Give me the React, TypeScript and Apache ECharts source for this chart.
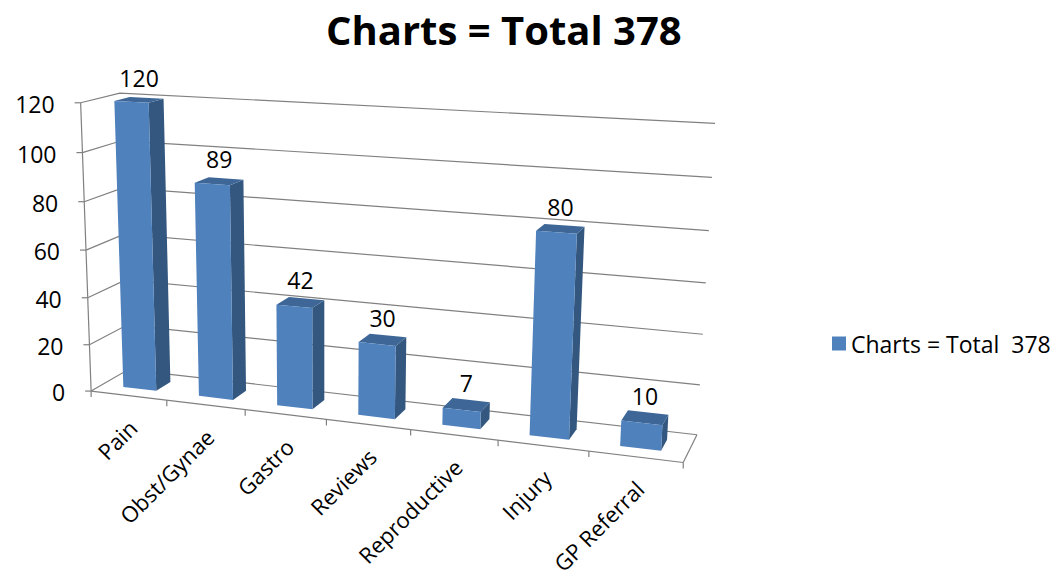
import React, { useEffect, useRef } from "react";
import * as echarts from "echarts";

const titleText = "Charts = Total 378";
const seriesName = "Charts = Total  378";
const categories = ["Pain", "Obst/Gynae", "Gastro", "Reviews", "Reproductive", "Injury", "GP Referral"];
const values = [120, 89, 42, 30, 7, 80, 10];
const yTicks = [0, 20, 40, 60, 80, 100, 120];
const Y_MAX = 120;
const Y_STEP = 20;

const FONT = "'Open Sans', 'DejaVu Sans', sans-serif";
const FRONT = "#4F81BD";
const SIDE = "#34577F";
const TOP = "#3E6797";
const GRID_LINE = "#808080";

// Camera calibration: box coordinates (u across categories, h height fraction, w depth 0=front 1=back) -> page pixels
const CAL: number[][] = [
  [0, 0, 1, 123, 373],
  [0, 1, 1, 123, 93],
  [1, 0, 1, 697, 432],
  [1, 1, 1, 715, 123],
  [0, 0, 0, 93, 390],
  [0, 1, 0, 78, 104],
  [1, 0, 0, 683, 465],
  [0, 5 / 6, 1, 123, 142],
  [1, 5 / 6, 1, 712, 178],
  [1, 1 / 6, 1, 700, 383],
  [1, 2 / 6, 1, 703, 334],
  [1, 3 / 6, 1, 706, 282],
  [1, 4 / 6, 1, 709, 231],
  [1 / 7, 0, 0, 170, 400],
  [2 / 7, 0, 0, 247, 410],
  [3 / 7, 0, 0, 327, 420],
  [4 / 7, 0, 0, 410, 430],
  [5 / 7, 0, 0, 497, 441],
  [6 / 7, 0, 0, 588, 453],
  [0, 1 / 6, 0, 90.5, 342],
  [0, 2 / 6, 0, 88, 296],
  [0, 3 / 6, 0, 85.5, 249],
  [0, 4 / 6, 0, 83, 201],
  [0, 5 / 6, 0, 80.5, 153],
];

const OX = 400, OY = 300, S = 300;

function solveLinear(A: number[][], b: number[]): number[] {
  const n = b.length;
  const M = A.map((r, i) => [...r, b[i]]);
  for (let c = 0; c < n; c++) {
    let piv = c;
    for (let r = c + 1; r < n; r++) if (Math.abs(M[r][c]) > Math.abs(M[piv][c])) piv = r;
    const tmp = M[c]; M[c] = M[piv]; M[piv] = tmp;
    for (let r = 0; r < n; r++) {
      if (r === c) continue;
      const f = M[r][c] / M[c][c];
      for (let k = c; k <= n; k++) M[r][k] -= f * M[c][k];
    }
  }
  return M.map((r, i) => r[n] / r[i]);
}

function fitCamera(pts: number[][]): number[] {
  const N = 11;
  const A = Array.from({ length: N }, () => new Array(N).fill(0));
  const b = new Array(N).fill(0);
  const add = (row: number[], rhs: number) => {
    for (let i = 0; i < N; i++) {
      for (let j = 0; j < N; j++) A[i][j] += row[i] * row[j];
      b[i] += row[i] * rhs;
    }
  };
  for (const [X, Y, Z, px, py] of pts) {
    const x = (px - OX) / S, y = (py - OY) / S;
    add([X, Y, Z, 1, 0, 0, 0, 0, -x * X, -x * Y, -x * Z], x);
    add([0, 0, 0, 0, X, Y, Z, 1, -y * X, -y * Y, -y * Z], y);
  }
  return solveLinear(A, b);
}

const CAM = fitCamera(CAL);

function proj(u: number, h: number, w: number): number[] {
  const p = CAM;
  const d = p[8] * u + p[9] * h + p[10] * w + 1;
  const x = (p[0] * u + p[1] * h + p[2] * w + p[3]) / d;
  const y = (p[4] * u + p[5] * h + p[6] * w + p[7]) / d;
  return [x * S + OX, y * S + OY];
}

const BAR_FRAC = 0.44;
const W0 = 0.3, W1 = 0.7;

function toUH(params: any, pt: number[]) {
  const cs = params.coordSys;
  return [(pt[0] - cs.x) / cs.width, (cs.y + cs.height - pt[1]) / cs.height];
}

export default function App() {
  const ref = useRef<HTMLDivElement>(null);
  useEffect(() => {
    document.body.style.margin = "0";
    const chart = echarts.init(ref.current!, undefined, { renderer: "svg" });
    const lineStyle = { stroke: GRID_LINE, lineWidth: 1.2, fill: null };

    const option: any = {
      animation: false,
      backgroundColor: "#ffffff",
      title: {
        text: titleText,
        left: 326,
        top: 9,
        padding: 0,
        textStyle: { fontFamily: FONT, fontSize: 40, fontWeight: "bold", color: "#000" },
      },
      legend: {
        data: [{ name: seriesName, icon: "rect" }],
        left: 832,
        top: 332,
        padding: 0,
        itemWidth: 14,
        itemHeight: 14,
        itemGap: 10,
        textStyle: { fontFamily: FONT, fontSize: 23, color: "#000" },
      },
      grid: { left: 0, top: 0, width: 700, height: 300, show: false },
      xAxis: { type: "category", data: categories, show: false },
      yAxis: { type: "value", min: 0, max: Y_MAX, interval: Y_STEP, show: false },
      series: [
        {
          type: "custom",
          name: "walls",
          silent: true,
          clip: false,
          z: 1,
          data: yTicks.map((t) => [0, t]),
          renderItem: (params: any, api: any) => {
            const [, h] = toUH(params, api.coord([0, api.value(1)]));
            const a = proj(0, h, 0), b = proj(0, h, 1), c = proj(1, h, 1);
            const children: any[] = [
              { type: "polyline", shape: { points: [a, b, c] }, style: lineStyle },
              { type: "line", shape: { x1: a[0] - 6, y1: a[1], x2: a[0], y2: a[1] }, style: lineStyle },
              {
                type: "text",
                x: a[0] - 26,
                y: a[1] + 1,
                style: {
                  text: String(api.value(1)),
                  align: "right",
                  verticalAlign: "middle",
                  fontFamily: FONT,
                  fontSize: 23,
                  fill: "#000",
                },
              },
            ];
            if (params.dataIndex === 0) {
              const fl = proj(0, 0, 0), fr = proj(1, 0, 0), br = proj(1, 0, 1), tl = proj(0, 1, 0);
              children.push(
                { type: "line", shape: { x1: fl[0], y1: fl[1], x2: fr[0], y2: fr[1] }, style: lineStyle },
                { type: "line", shape: { x1: fr[0], y1: fr[1], x2: br[0], y2: br[1] }, style: lineStyle },
                { type: "line", shape: { x1: fl[0], y1: fl[1], x2: tl[0], y2: tl[1] }, style: lineStyle },
                { type: "line", shape: { x1: fl[0], y1: fl[1], x2: fl[0], y2: fl[1] + 6 }, style: lineStyle }
              );
            }
            return { type: "group", children };
          },
        },
        {
          type: "custom",
          name: "categoryAxis",
          silent: true,
          clip: false,
          z: 2,
          data: categories.map((_, i) => [i, 0]),
          renderItem: (params: any, api: any) => {
            const idx = api.value(0);
            const [uc] = toUH(params, api.coord([idx, 0]));
            const band = api.size([1, 0])[0] / params.coordSys.width;
            const tk = proj(uc + band / 2, 0, 0);
            const e = proj(uc, 0, 0);
            return {
              type: "group",
              children: [
                { type: "line", shape: { x1: tk[0], y1: tk[1], x2: tk[0], y2: tk[1] + 6 }, style: lineStyle },
                {
                  type: "text",
                  x: e[0] + 4,
                  y: e[1] + 28,
                  rotation: Math.PI / 4,
                  style: {
                    text: categories[idx],
                    align: "right",
                    verticalAlign: "middle",
                    fontFamily: FONT,
                    fontSize: 22,
                    fill: "#000",
                  },
                },
              ],
            };
          },
        },
        {
          type: "custom",
          name: seriesName,
          clip: false,
          z: 3,
          itemStyle: { color: FRONT },
          data: values.map((v, i) => [i, v]),
          renderItem: (params: any, api: any) => {
            const idx = api.value(0);
            const val = api.value(1);
            const [uc, h] = toUH(params, api.coord([idx, val]));
            const band = api.size([1, 0])[0] / params.coordSys.width;
            const u0 = uc - (band * BAR_FRAC) / 2;
            const u1 = uc + (band * BAR_FRAC) / 2;
            const front = [proj(u0, 0, W0), proj(u1, 0, W0), proj(u1, h, W0), proj(u0, h, W0)];
            const side = [proj(u1, 0, W0), proj(u1, 0, W1), proj(u1, h, W1), proj(u1, h, W0)];
            const top = [proj(u0, h, W0), proj(u1, h, W0), proj(u1, h, W1), proj(u0, h, W1)];
            const lab = proj(uc, h, (W0 + W1) / 2);
            return {
              type: "group",
              children: [
                { type: "polygon", shape: { points: side }, style: { fill: SIDE } },
                { type: "polygon", shape: { points: top }, style: { fill: TOP } },
                { type: "polygon", shape: { points: front }, style: { fill: FRONT } },
                {
                  type: "text",
                  x: lab[0],
                  y: lab[1] - 22,
                  style: {
                    text: String(val),
                    align: "center",
                    verticalAlign: "middle",
                    fontFamily: FONT,
                    fontSize: 23,
                    fill: "#000",
                  },
                },
              ],
            };
          },
        },
      ],
    };
    chart.setOption(option);
    return () => chart.dispose();
  }, []);
  return <div ref={ref} style={{ width: 1063, height: 579 }} />;
}
